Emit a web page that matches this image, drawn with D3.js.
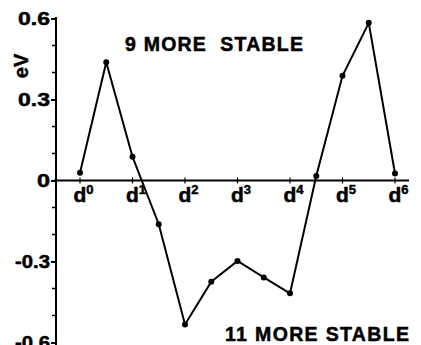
<!DOCTYPE html>
<html>
<head>
<meta charset="utf-8">
<script src="https://cdn.jsdelivr.net/npm/d3@7"></script>
<style>
  body { margin: 0; background: #fff; }
  text { font-family: "Liberation Sans", Arial, sans-serif; font-weight: bold; fill: #000; stroke: #000; stroke-width: 0.5px; }
</style>
</head>
<body>
<div id="chart"></div>
<script>
// d-electron count (half steps between the labelled d^n ticks)
var electrons = [0, 0.5, 1, 1.5, 2, 2.5, 3, 3.5, 4, 4.5, 5, 5.5, 6];
// energy difference, eV
var energy = [0.029, 0.438, 0.088, -0.162, -0.533, -0.375, -0.298, -0.359, -0.418, 0.017, 0.388, 0.584, 0.026];

var xTicks = [0, 1, 2, 3, 4, 5, 6];
var yMajor = [0.6, 0.3, 0, -0.3, -0.6];
var yLabels = ["0.6", "0.3", "0", "-0.3", "-0.6"];
var yMinor = [0.5, 0.4, 0.2, 0.1, -0.1, -0.2, -0.4, -0.5];

var width = 421, height = 345;

var svg = d3.select("#chart")
  .append("svg")
  .attr("width", width)
  .attr("height", height);

var x = d3.scaleLinear().domain([0, 6]).range([80, 395]);
var y = d3.scaleLinear().domain([-0.6, 0.6]).range([342.5, 18.5]);

var axisX = 56;

// y axis line
svg.append("line")
  .attr("x1", axisX).attr("x2", axisX)
  .attr("y1", 17).attr("y2", height)
  .attr("stroke", "#000").attr("stroke-width", 2);

// y major ticks + labels
svg.append("g")
  .attr("transform", "translate(" + axisX + ",0)")
  .call(d3.axisLeft(y).tickValues(yMajor).tickSize(5).tickPadding(1)
    .tickFormat(function(d, i) { return yLabels[i]; }))
  .call(function(g) {
    g.select(".domain").remove();
    g.selectAll("line").attr("stroke-width", 2);
    g.selectAll("text")
      .attr("font-size", 18)
      .attr("font-family", null)
      .attr("dy", "0.35em")
      .attr("textLength", function(d) { return d === 0 ? 13 : (d < 0 ? 35 : 32); })
      .attr("lengthAdjust", "spacingAndGlyphs");
  });

// y minor ticks
svg.append("g")
  .selectAll("line")
  .data(yMinor)
  .enter()
  .append("line")
  .attr("x1", axisX - 4).attr("x2", axisX)
  .attr("y1", function(d) { return y(d); })
  .attr("y2", function(d) { return y(d); })
  .attr("stroke", "#000").attr("stroke-width", 1.5);

// x axis (zero line)
svg.append("line")
  .attr("x1", 54).attr("x2", 409)
  .attr("y1", y(0)).attr("y2", y(0))
  .attr("stroke", "#000").attr("stroke-width", 2);

svg.append("g")
  .selectAll("line")
  .data(xTicks)
  .enter()
  .append("line")
  .attr("x1", function(d) { return x(d); })
  .attr("x2", function(d) { return x(d); })
  .attr("y1", y(0) - 3).attr("y2", y(0) + 3)
  .attr("stroke", "#000").attr("stroke-width", 1.2);

// d^n labels
var dl = svg.append("g")
  .selectAll("text")
  .data(xTicks)
  .enter()
  .append("text")
  .attr("x", function(d) { return x(d) - 6.5; })
  .attr("y", 202)
  .attr("font-size", 21);
dl.append("tspan").text("d");
dl.append("tspan")
  .attr("font-size", 13)
  .attr("dy", -8)
  .text(function(d) { return d; });

// eV label
svg.append("text")
  .attr("transform", "translate(28,66) rotate(-90)")
  .attr("text-anchor", "middle")
  .attr("font-size", 20)
  .text("eV");

// line + dots
var pts = electrons.map(function(e, i) { return [e, energy[i]]; });

svg.append("path")
  .datum(pts)
  .attr("fill", "none")
  .attr("stroke", "#000")
  .attr("stroke-width", 2)
  .attr("d", d3.line()
    .x(function(d) { return x(d[0]); })
    .y(function(d) { return y(d[1]); }));

svg.append("g")
  .selectAll("circle")
  .data(pts)
  .enter()
  .append("circle")
  .attr("cx", function(d) { return x(d[0]); })
  .attr("cy", function(d) { return y(d[1]); })
  .attr("r", 3)
  .attr("fill", "#000");

// annotations
svg.append("text")
  .attr("x", 125).attr("y", 51)
  .attr("font-size", 19.5)
  .attr("textLength", 178)
  .attr("lengthAdjust", "spacing")
  .attr("xml:space", "preserve")
  .text("9 MORE  STABLE");

svg.append("text")
  .attr("x", 225).attr("y", 341)
  .attr("font-size", 19.5)
  .attr("textLength", 184)
  .attr("lengthAdjust", "spacing")
  .text("11 MORE STABLE");
</script>
</body>
</html>
